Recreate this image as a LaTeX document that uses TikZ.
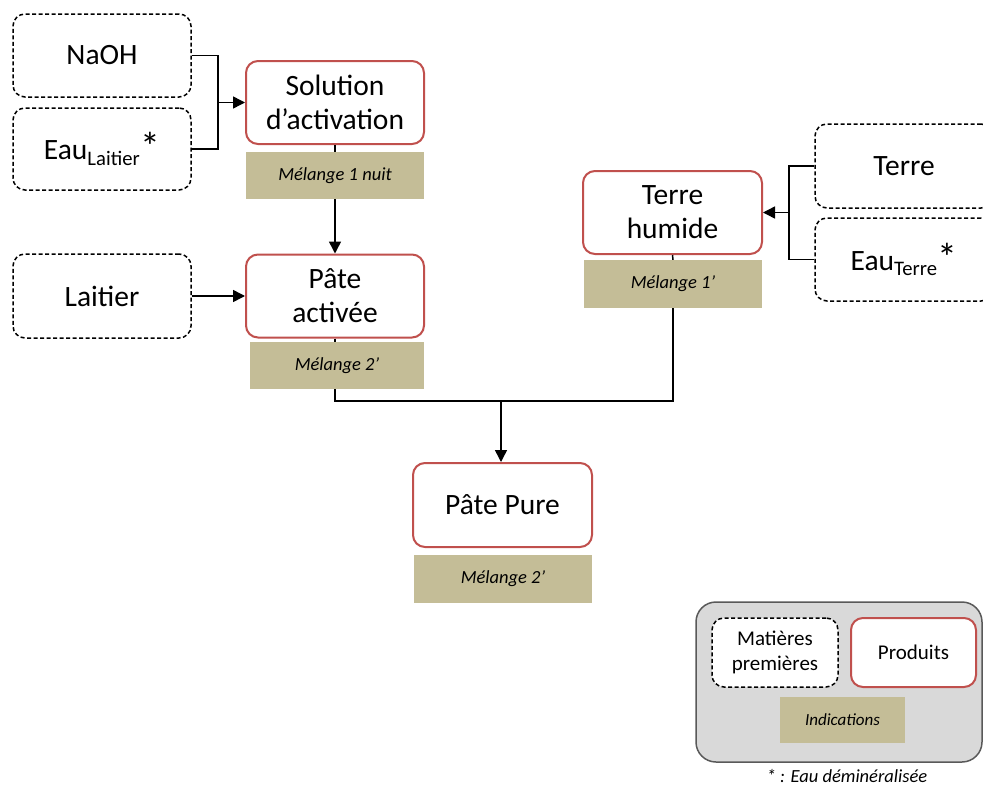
\documentclass[tikz,border=0pt]{standalone}
\usepackage{fontspec}
\setmainfont{Carlito}
\usetikzlibrary{arrows.meta}
\definecolor{prodred}{HTML}{C0504D}
\definecolor{tanfill}{HTML}{C4BD97}
\definecolor{legfill}{HTML}{D9D9D9}
\definecolor{legdraw}{HTML}{595959}
\newcommand{\bigast}{\raisebox{-0.05ex}{\scalebox{1.35}{*}}}
\tikzset{
  raw/.style={draw=black, dashed, dash pattern=on 4pt off 2.5pt, line width=1.5pt, rounded corners=12pt,
    minimum width=178pt, minimum height=83pt, inner sep=2pt, align=center, font=\fontsize{29.5}{34}\selectfont},
  prod/.style={draw=prodred, line width=2pt, rounded corners=12pt, fill=white,
    minimum width=178pt, minimum height=83pt, inner sep=2pt, align=center, font=\fontsize{29.5}{34}\selectfont},
  ind/.style={fill=tanfill, minimum width=178pt, minimum height=47pt, inner sep=2pt, font=\fontsize{18.5}{22}\selectfont\itshape},
  conn/.style={line width=1.5pt},
  arr/.style={line width=1.5pt, -{Triangle[length=12pt,width=12pt]}},
}
\begin{document}
\begin{tikzpicture}[x=1pt,y=-1pt]
\clip (0,0) rectangle (983,787);
\fill[white] (0,0) rectangle (983,787);
% left column
\node[raw] (naoh) at (102,55.5) {NaOH};
\node[raw, minimum height=82pt] (eaul) at (102,149) {Eau\textsubscript{Laitier}\bigast};
\node[raw, minimum height=84pt] (lait) at (102,296) {Laitier};
% middle column
\node[prod] (sol) at (335,102.5) {Solution\\d’activation};
\node[ind] (m1) at (335,175.5) {Mélange 1 nuit};
\node[prod] (pa) at (335,296) {Pâte\\activée};
\node[ind, minimum width=174pt] (m2) at (337,365.5) {Mélange 2’};
% right
\node[prod, minimum width=179pt] (th) at (672.5,212.5) {Terre\\humide};
\node[ind, minimum height=48pt] (m3) at (673,284) {Mélange 1’};
\node[raw, minimum height=84pt] (terre) at (904,166) {Terre};
\node[raw] (eaut) at (904,259.5) {Eau\textsubscript{Terre}\bigast};
% bottom
\node[prod, minimum width=179pt, minimum height=84pt] (pp) at (502.5,505) {Pâte Pure};
\node[ind, minimum height=48pt] (m4) at (503,579) {Mélange 2’};
% connectors
\coordinate (j1) at (218,102.5);
\draw[conn] (naoh.east) -| (j1);
\draw[conn] (eaul.east) -| (j1);
\draw[arr] (j1) -- (sol.west);
\draw[conn] (sol.south) -- (m1.north -| sol.south);
\draw[arr] (m1.south -| sol.south) -- (pa.north);
\draw[arr] (lait.east) -- (pa.west);
\draw[conn] (pa.south) -- (m2.north -| pa.south);
\coordinate (j2) at (789,212.5);
\draw[conn] (terre.west) -| (j2);
\draw[conn] (eaut.west) -| (j2);
\draw[arr] (j2) -- (th.east);
\draw[conn] (th.south) -- (m3.north);
\coordinate (j3) at (501,401);
\draw[conn] (m2.south -| pa.south) |- (j3);
\draw[conn] (m3.south) |- (j3);
\draw[arr] (j3) -- (pp.north -| j3);
% legend
\node[draw=legdraw, fill=legfill, line width=1.5pt, rounded corners=20pt, minimum width=286pt, minimum height=160pt, inner sep=0pt] (leg) at (839,682) {};
\node[raw, minimum width=126pt, minimum height=69pt, font=\fontsize{21}{25}\selectfont, fill=white] (mp) at (775,652.5) {Matières\\premières};
\node[prod, minimum width=125pt, minimum height=69pt, font=\fontsize{21}{25}\selectfont] (prd) at (913.5,652.5) {Produits};
\node[ind, minimum width=125pt, minimum height=46pt, font=\fontsize{17}{20}\selectfont\itshape] (indic) at (842.5,720) {Indications};
\node[font=\fontsize{18.5}{22}\selectfont\itshape, inner sep=0pt] (foot) at (847,776) {* : Eau déminéralisée};
\end{tikzpicture}
\end{document}
